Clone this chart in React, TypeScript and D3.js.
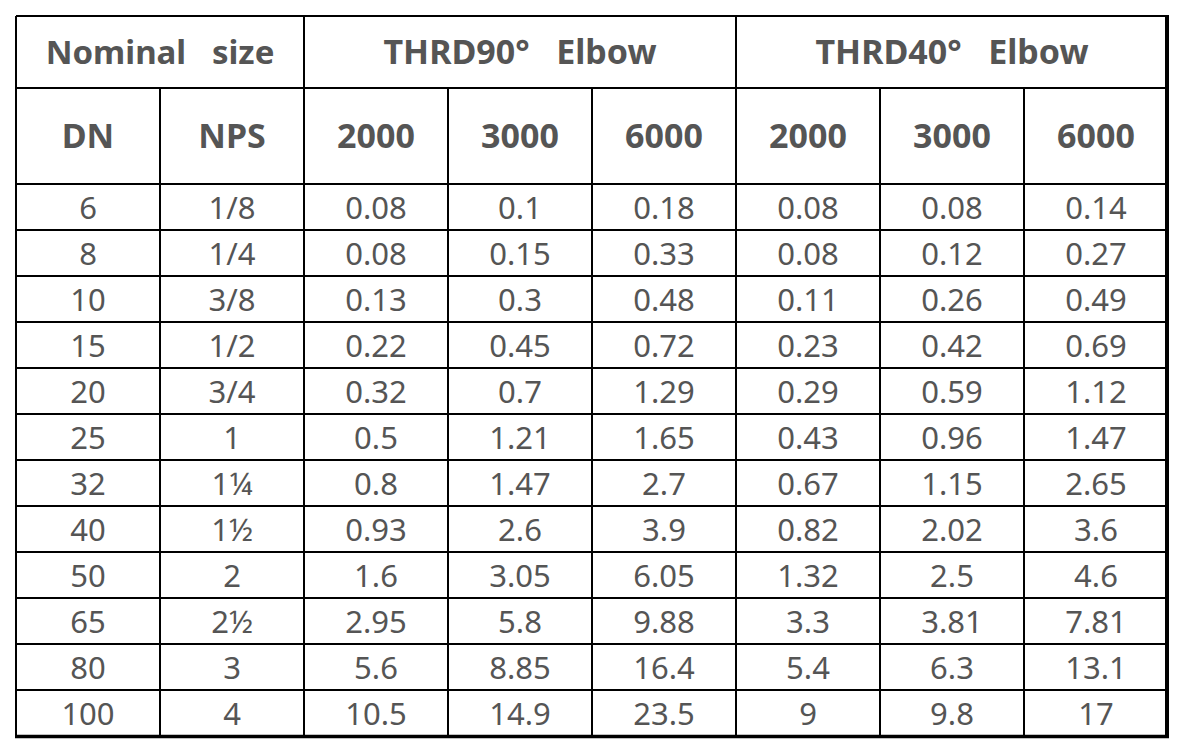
import React from "react";
import * as d3 from "d3";

const groupHeaders = ["Nominal   size", "THRD90°   Elbow", "THRD40°   Elbow"];
const groupSpans = [2, 3, 3];
const subHeaders = ["DN", "NPS", "2000", "3000", "6000", "2000", "3000", "6000"];
const dn = ["6", "8", "10", "15", "20", "25", "32", "40", "50", "65", "80", "100"];
const nps = ["1/8", "1/4", "3/8", "1/2", "3/4", "1", "1¼", "1½", "2", "2½", "3", "4"];
const elbow90_2000 = ["0.08", "0.08", "0.13", "0.22", "0.32", "0.5", "0.8", "0.93", "1.6", "2.95", "5.6", "10.5"];
const elbow90_3000 = ["0.1", "0.15", "0.3", "0.45", "0.7", "1.21", "1.47", "2.6", "3.05", "5.8", "8.85", "14.9"];
const elbow90_6000 = ["0.18", "0.33", "0.48", "0.72", "1.29", "1.65", "2.7", "3.9", "6.05", "9.88", "16.4", "23.5"];
const elbow40_2000 = ["0.08", "0.08", "0.11", "0.23", "0.29", "0.43", "0.67", "0.82", "1.32", "3.3", "5.4", "9"];
const elbow40_3000 = ["0.08", "0.12", "0.26", "0.42", "0.59", "0.96", "1.15", "2.02", "2.5", "3.81", "6.3", "9.8"];
const elbow40_6000 = ["0.14", "0.27", "0.49", "0.69", "1.12", "1.47", "2.65", "3.6", "4.6", "7.81", "13.1", "17"];

const columns = [dn, nps, elbow90_2000, elbow90_3000, elbow90_6000, elbow40_2000, elbow40_3000, elbow40_6000];

const W = 1184;
const H = 754;
const left = 16;
const right = 1168;
const top = 16;
const head1 = 88;
const head2 = 184;
const bottom = 736;
const textColor = "#555555";
const font = "'Noto Sans', 'Open Sans', sans-serif";

export default function App() {
  const colIdx = d3.range(columns.length);
  const x = d3.scaleBand<number>().domain(colIdx).range([left, right]).paddingInner(0).paddingOuter(0);
  const rowIdx = d3.range(dn.length);
  const y = d3.scaleBand<number>().domain(rowIdx).range([head2, bottom]);
  const cw = x.bandwidth();
  const rh = y.bandwidth();

  const groupStarts: number[] = [];
  let acc = 0;
  groupSpans.forEach((s) => { groupStarts.push(acc); acc += s; });

  return (
    <svg width={W} height={H} style={{ position: "absolute", left: 0, top: 0, background: "#fff" }}>
      <rect x={0} y={0} width={W} height={H} fill="#ffffff" />
      {groupHeaders.map((g, i) => {
        const x0 = x(groupStarts[i])!;
        const x1 = x0 + groupSpans[i] * cw;
        return (
          <text key={"g" + i} x={(x0 + x1) / 2} y={(top + head1) / 2 + 12} textAnchor="middle"
            fontFamily={font} fontWeight={700} fontSize={i === 0 ? 33 : 34} fill={textColor} style={{ whiteSpace: "pre" }} xmlSpace="preserve">
            {g}
          </text>
        );
      })}
      {subHeaders.map((s, i) => (
        <text key={"s" + i} x={x(i)! + cw / 2} y={(head1 + head2) / 2 + 12} textAnchor="middle"
          fontFamily={font} fontWeight={700} fontSize={34} fill={textColor}>
          {s}
        </text>
      ))}
      {columns.map((col, ci) =>
        col.map((v, ri) => (
          <text key={ci + "-" + ri} x={x(ci)! + cw / 2} y={y(ri)! + rh / 2 + 11.5} textAnchor="middle"
            fontFamily={font} fontSize={31} fill={textColor}>
            {v}
          </text>
        ))
      )}
      <g stroke="#000" strokeWidth={2}>
        <line x1={left} x2={right} y1={top} y2={top} />
        <line x1={left} x2={right} y1={head1} y2={head1} />
        <line x1={left} x2={right} y1={head2} y2={head2} />
        {rowIdx.slice(1).map((r) => (
          <line key={"h" + r} x1={left} x2={right} y1={y(r)!} y2={y(r)!} />
        ))}
        <line x1={left} x2={left} y1={top} y2={bottom} />
        {colIdx.slice(1).map((c) => {
          const isGroupBoundary = groupStarts.includes(c);
          return (
            <line key={"v" + c} x1={x(c)!} x2={x(c)!} y1={isGroupBoundary ? top : head1} y2={bottom} />
          );
        })}
      </g>
      <line x1={right - 1} x2={right - 1} y1={top - 1} y2={bottom + 2} stroke="#000" strokeWidth={4} />
      <line x1={left - 1} x2={right + 1} y1={bottom + 0.5} y2={bottom + 0.5} stroke="#000" strokeWidth={3.5} />
    </svg>
  );
}
